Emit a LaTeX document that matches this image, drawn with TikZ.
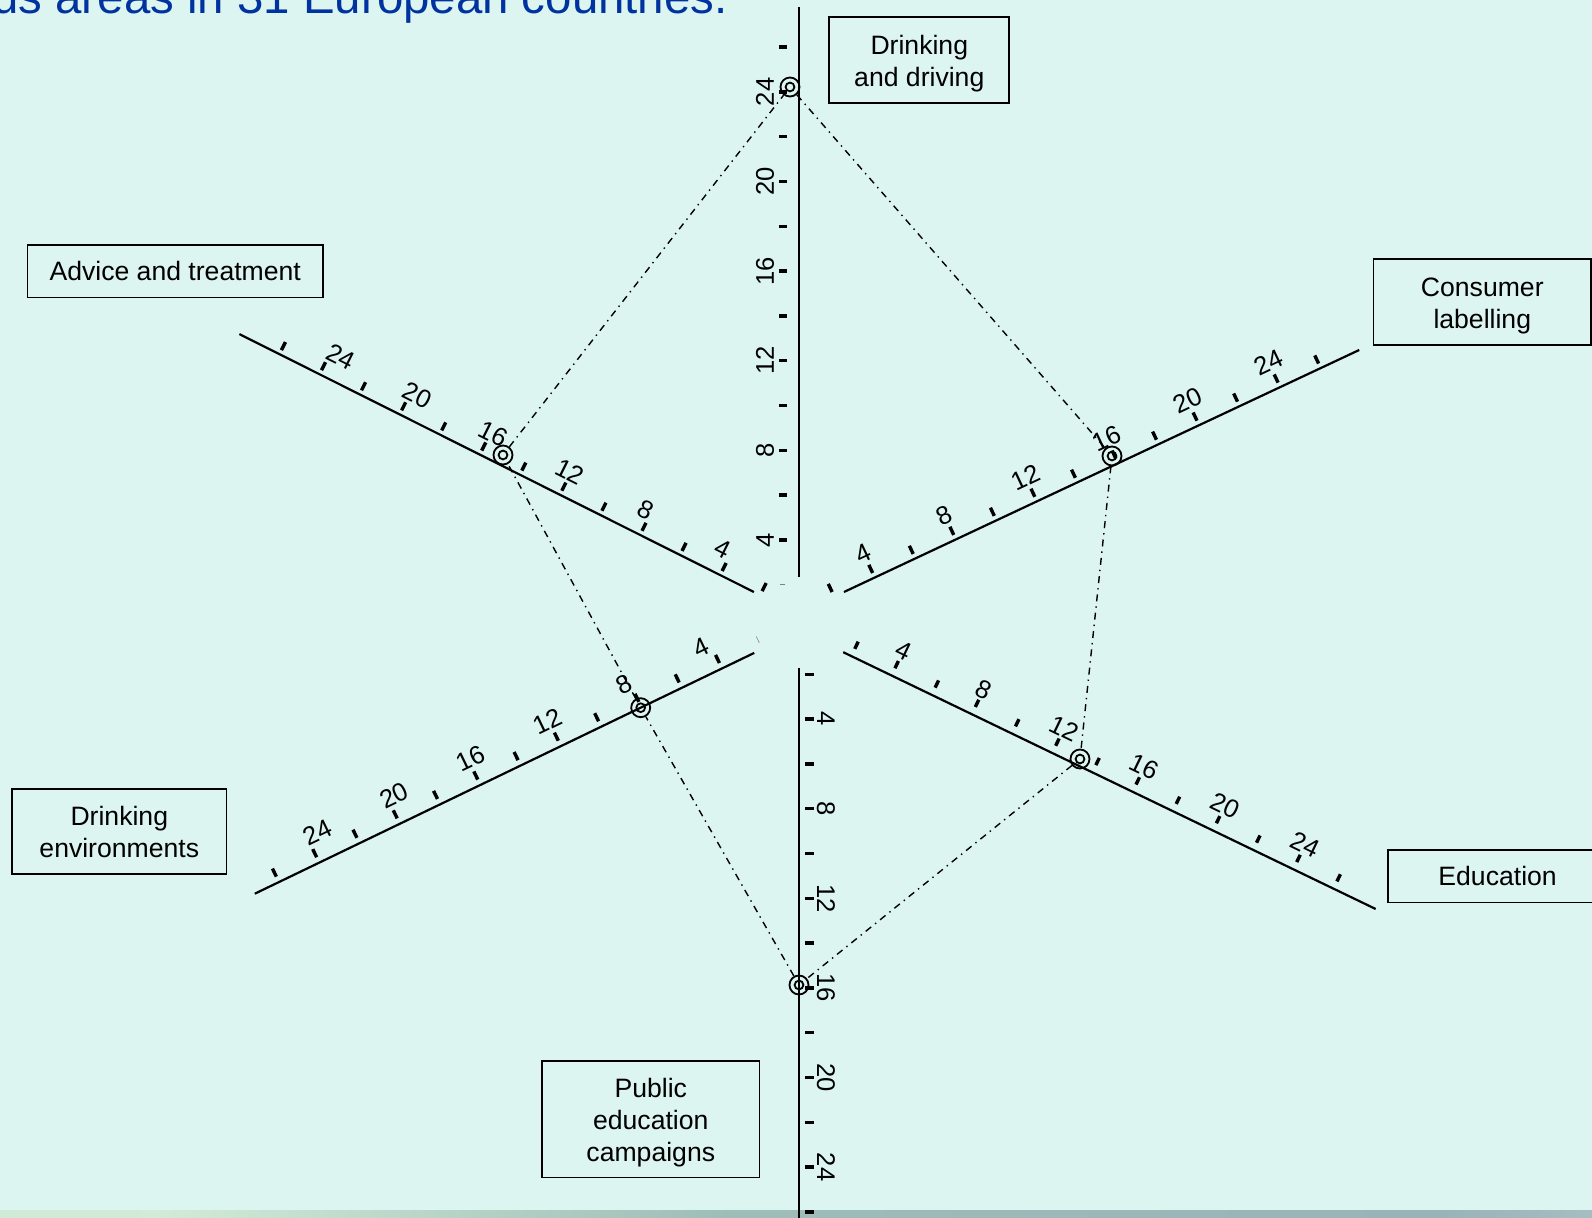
\documentclass[tikz,border=0pt]{standalone}
\usepackage{fontspec}
\setmainfont{Liberation Sans}
\usetikzlibrary{calc}

\definecolor{slidebg}{RGB}{221,245,240}
\definecolor{titleblue}{RGB}{0,51,160}
\pgfdeclarehorizontalshading{footband}{100bp}{%
  rgb(0bp)=(0.78,0.9,0.82); rgb(30bp)=(0.82,0.92,0.84); rgb(48bp)=(0.62,0.74,0.72);
  rgb(70bp)=(0.6,0.7,0.72); rgb(100bp)=(0.9,0.94,0.96)}

\begin{document}
\begin{tikzpicture}[x=0.5pt,y=-0.5pt,
    axisline/.style={line width=1.1pt},
    tickmark/.style={line width=1.7pt},
    faintmark/.style={line width=0.3pt,gray},
    ticklabel/.style={inner sep=0pt,font=\fontsize{12.8}{14}\selectfont},
    ring/.style={circle,draw,line width=0.9pt,minimum size=9.5pt,inner sep=0pt,
      path picture={\draw[line width=0.9pt] (path picture bounding box.center) circle (2.2pt);}},
    profile/.style={line width=0.7pt,dash pattern=on 3.5pt off 2.5pt on 0.7pt off 2.5pt},
    labelbox/.style={draw,line width=0.85pt,align=center,inner sep=0pt,
      font=\fontsize{13.3}{16.2}\selectfont},
    lowtext/.style={text height=#1}]

    % slide background
    \useasboundingbox (0,0) rectangle (1592,1218);
    \fill[slidebg] (0,0) rectangle (1592,1218);
    \shade[shading=footband] (0,1211) rectangle (1592,1218);

    % title (cut by the slide)
    \node[anchor=base east,inner sep=0pt,text=titleblue,font=\fontsize{23.7}{28}\selectfont]
      (title) at (728,14) {us areas in 31 European countries.};

    % drinking and driving (axis upwards)
    \coordinate (oDD) at (799,629.5);
    \coordinate (uDD) at (0,-22.4);
    \coordinate (nDD) at (-1,0);
    \coordinate (aDD) at ($(oDD)+2.34*(uDD)$);
    \coordinate (bDD) at ($(oDD)+27.8*(uDD)$);
    \draw[axisline] (aDD) -- (bDD);
    \draw[faintmark] ($(oDD)+2*(uDD)+14*(nDD)$) -- ($(oDD)+2*(uDD)+19*(nDD)$);
    \foreach \v in {4,6,...,26}
      \draw[tickmark] ($(oDD)+\v*(uDD)+12*(nDD)$) -- ($(oDD)+\v*(uDD)+20*(nDD)$);
    \foreach \v in {4,8,...,24}
      \node[ticklabel,rotate=90] (lDD\v) at ($(oDD)+\v*(uDD)+34*(nDD)$) {\v};

    % consumer labelling (axis up right)
    \coordinate (oCL) at (793.7,615.6);
    \coordinate (uCL) at (20.27,-9.52);
    \coordinate (nCL) at (-0.425,-0.905);
    \coordinate (aCL) at ($(oCL)+2.48*(uCL)$);
    \coordinate (bCL) at ($(oCL)+27.9*(uCL)$);
    \draw[axisline] (aCL) -- (bCL);
    \foreach \v in {2,4,...,26}
      \draw[tickmark] ($(oCL)+\v*(uCL)+5*(nCL)$) -- ($(oCL)+\v*(uCL)+14*(nCL)$);
    \foreach \v in {4,8,...,24}
      \node[ticklabel,rotate=25.2] (lCL\v) at ($(oCL)+\v*(uCL)+27*(nCL)$) {\v};

    % education (axis down right)
    \coordinate (oED) at (811.1,636.7);
    \coordinate (uED) at (20.09,9.69);
    \coordinate (nED) at (0.4347,-0.9007);
    \coordinate (aED) at ($(oED)+1.6*(uED)$);
    \coordinate (bED) at ($(oED)+28.1*(uED)$);
    \draw[axisline] (aED) -- (bED);
    \foreach \v in {2,4,...,26}
      \draw[tickmark] ($(oED)+\v*(uED)+8*(nED)$) -- ($(oED)+\v*(uED)+16*(nED)$);
    \foreach \v in {4,8,...,24}
      \node[ticklabel,rotate=-25.8] (lED\v) at ($(oED)+\v*(uED)+27.5*(nED)$) {\v};

    % public education campaigns (axis downwards)
    \coordinate (oPE) at (799,629.5);
    \coordinate (uPE) at (0,22.4);
    \coordinate (nPE) at (1,0);
    \coordinate (aPE) at ($(oPE)+1.7*(uPE)$);
    \coordinate (bPE) at ($(oPE)+26.7*(uPE)$);
    \draw[axisline] (aPE) -- (bPE);
    \foreach \v in {2,4,...,26}
      \draw[tickmark] ($(oPE)+\v*(uPE)+6*(nPE)$) -- ($(oPE)+\v*(uPE)+15*(nPE)$);
    \foreach \v in {4,8,...,24}
      \node[ticklabel,rotate=-90] (lPE\v) at ($(oPE)+\v*(uPE)+27*(nPE)$) {\v};

    % drinking environments (axis down left)
    \coordinate (oDE) at (802.6,629.6);
    \coordinate (uDE) at (-20.14,9.71);
    \coordinate (nDE) at (-0.4342,-0.9009);
    \coordinate (aDE) at ($(oDE)+2.4*(uDE)$);
    \coordinate (bDE) at ($(oDE)+27.2*(uDE)$);
    \draw[axisline] (aDE) -- (bDE);
    \draw[faintmark] ($(oDE)+2*(uDE)+7*(nDE)$) -- ($(oDE)+2*(uDE)+14*(nDE)$);
    \foreach \v in {4,6,...,26}
      \draw[tickmark] ($(oDE)+\v*(uDE)+6*(nDE)$) -- ($(oDE)+\v*(uDE)+15*(nDE)$);
    \foreach \v in {4,8,...,24}
      \node[ticklabel,rotate=25.7] (lDE\v) at ($(oDE)+{0.953*\v+0.62}*(uDE)+28*(nDE)$) {\v};

    % advice and treatment (axis up left)
    \coordinate (oAT) at (800.2,615.2);
    \coordinate (uAT) at (-20.03,-10.04);
    \coordinate (nAT) at (0.448,-0.894);
    \coordinate (aAT) at ($(oAT)+2.31*(uAT)$);
    \coordinate (bAT) at ($(oAT)+28*(uAT)$);
    \draw[axisline] (aAT) -- (bAT);
    \foreach \v in {2,4,...,26}
      \draw[tickmark] ($(oAT)+\v*(uAT)+4.5*(nAT)$) -- ($(oAT)+\v*(uAT)+13.5*(nAT)$);
    \foreach \v in {4,8,...,24}
      \node[ticklabel,rotate=-26.6] (lAT\v) at ($(oAT)+{0.953*\v+0.62}*(uAT)+25*(nAT)$) {\v};

    % scores of the country
    \node[ring] (pDD) at (790,87) {};
    \node[ring] (pCL) at (1112,456) {};
    \node[ring] (pED) at (1080,759) {};
    \node[ring] (pPE) at (799,985) {};
    \node[ring] (pDE) at (640.7,707.7) {};
    \node[ring] (pAT) at (503,455) {};
    \draw[profile] (pDD) -- (pCL) -- (pED) -- (pPE) -- (pDE) -- (pAT) -- (pDD);

    % names of the areas
    \node[labelbox,lowtext=29.2pt,minimum width=90pt,minimum height=42.7pt] (bxDD) at (919.3,60) {Drinking\\and driving};
    \node[labelbox,lowtext=29.2pt,minimum width=108.75pt,minimum height=43pt] (bxCL) at (1482.3,302) {Consumer\\labelling};
    \node[labelbox,minimum width=109.4pt,minimum height=26.25pt] (bxED) at (1497.6,876.2) {Education};
    \node[labelbox,lowtext=45.4pt,minimum width=108.6pt,minimum height=58.25pt] (bxPE) at (650.8,1119.3) {Public\\education\\campaigns};
    \node[labelbox,lowtext=26.4pt,minimum width=107.1pt,minimum height=42.65pt] (bxDE) at (119.3,831.5) {Drinking\\environments};
    \node[labelbox,minimum width=147.75pt,minimum height=26.4pt] (bxAT) at (175.2,271.1) {Advice and treatment};

\end{tikzpicture}
\end{document}
